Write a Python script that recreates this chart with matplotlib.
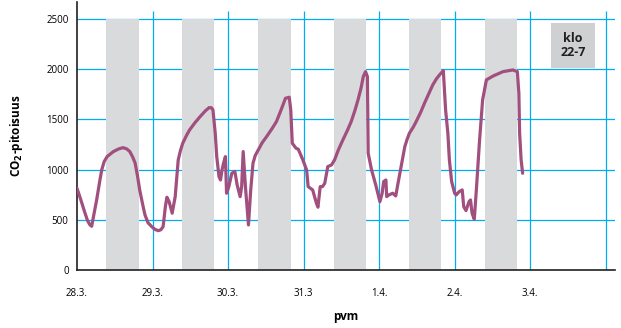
import matplotlib
matplotlib.use("Agg")
import matplotlib.pyplot as plt
from matplotlib.patches import Rectangle

plt.rcParams['font.family'] = ['Open Sans', 'DejaVu Sans']

# x tick labels (day positions 0..6), and one unlabeled grid line at 7
date_labels = ["28.3.", "29.3.", "30.3.", "31.3", "1.4.", "2.4.", "3.4."]
y_ticks = [0, 500, 1000, 1500, 2000, 2500]

# night periods (klo 22-7), in days from 28.3.
night_start = [0.384, 1.39, 2.40, 3.40, 4.40, 5.40]
night_end = [0.82, 1.82, 2.83, 3.82, 4.82, 5.83]

# CO2 series: time (days from 28.3.) and concentration (ppm)
t = [0.00, 0.05, 0.10, 0.14, 0.17, 0.194, 0.22, 0.26, 0.30, 0.327, 0.36, 0.40,
     0.48, 0.55, 0.61, 0.66, 0.70, 0.74, 0.77, 0.80, 0.83, 0.87, 0.90, 0.94, 0.99,
     1.03, 1.075, 1.11, 1.14, 1.17, 1.19, 1.22, 1.26, 1.30, 1.34, 1.37, 1.40, 1.45,
     1.49, 1.56, 1.63, 1.70, 1.75, 1.78, 1.80, 1.83, 1.85, 1.88, 1.90, 1.92, 1.94,
     1.965, 1.98, 2.01, 2.05, 2.09, 2.12, 2.16, 2.18, 2.20, 2.23, 2.27, 2.30, 2.33,
     2.36, 2.40, 2.45, 2.51, 2.58, 2.64, 2.70, 2.76, 2.81, 2.83, 2.85, 2.90, 2.93,
     2.99, 3.04, 3.06, 3.12, 3.17, 3.19, 3.22, 3.25, 3.28, 3.32, 3.37, 3.41, 3.46,
     3.52, 3.58, 3.63, 3.68, 3.72, 3.76, 3.79, 3.82, 3.845, 3.85, 3.855, 3.90, 3.955,
     4.01, 4.04, 4.06, 4.09, 4.10, 4.13, 4.18, 4.22, 4.25, 4.30, 4.34, 4.37, 4.40,
     4.45, 4.49, 4.55, 4.60, 4.66, 4.71, 4.76, 4.80, 4.85, 4.88, 4.91, 4.93, 4.96,
     5.00, 5.02, 5.06, 5.10, 5.12, 5.15, 5.19, 5.21, 5.23, 5.26, 5.29, 5.33, 5.37,
     5.42, 5.51, 5.64, 5.77, 5.83, 5.85, 5.86, 5.88, 5.90]
co2 = [813, 700, 580, 490, 450, 435, 540, 697, 880, 996, 1080, 1130,
       1178, 1205, 1218, 1205, 1178, 1120, 1063, 940, 797, 650, 548, 470, 431,
       405, 391, 400, 431, 630, 724, 680, 565, 730, 1096, 1190, 1262, 1340,
       1394, 1465, 1527, 1585, 1617, 1615, 1594, 1362, 1129, 929, 896, 996, 1063,
       1129, 764, 830, 963, 980, 847, 730, 830, 1179, 830, 448, 797, 1063,
       1140, 1195, 1265, 1328, 1405, 1477, 1590, 1710, 1720, 1594, 1262, 1212, 1202,
       1096, 996, 830, 797, 664, 625, 830, 830, 863, 1029, 1046, 1096, 1195,
       1295, 1390, 1477, 1590, 1693, 1810, 1925, 1975, 1925, 1527, 1162, 996, 847,
       680, 764, 880, 896, 730, 747, 764, 737, 863, 1063, 1228, 1300, 1361,
       1420, 1477, 1570, 1660, 1760, 1843, 1905, 1943, 1985, 1594, 1362, 1096, 880,
       764, 747, 780, 797, 630, 591, 680, 697, 565, 505, 830, 1295, 1693,
       1893, 1932, 1975, 1992, 1975, 1760, 1362, 1096, 963]

fig = plt.figure(figsize=(6.21, 3.28), dpi=100)
ax = fig.add_axes([0.124, 0.177, 0.866, 0.817])
ax.set_xlim(0, 7.12)
ax.set_ylim(0, 2669)

grid_c = "#00aeef"
for yv in y_ticks[1:]:
    ax.axhline(yv, color=grid_c, lw=0.9, zorder=1)
for xv in range(1, 8):
    ax.vlines(xv, 0, 2580, color=grid_c, lw=0.9, zorder=1)

for s, e in zip(night_start, night_end):
    ax.add_patch(Rectangle((s, 0), e - s, 2500, facecolor="#d9dadb",
                           edgecolor="none", zorder=2))

ax.plot(t, co2, color="#a14f7f", lw=2.3, zorder=4, solid_capstyle="round",
        solid_joinstyle="round")

ax.add_patch(Rectangle((6.28, 2012), 0.58, 448, facecolor="#cfd0d2",
                       edgecolor="none", zorder=3))
ax.text(6.57, 2236, "klo\n22-7", ha="center", va="center", fontsize=9,
        fontweight="bold", color="#231f20", zorder=5, linespacing=1.05)

ax.set_xticks(range(0, 7))
ax.set_xticklabels(date_labels, fontsize=7)
ax.set_yticks(y_ticks)
ax.set_yticklabels([str(v) for v in y_ticks], fontsize=7)
ax.tick_params(length=0, pad=6)
ax.tick_params(axis="x", pad=13)

for sp in ["top", "right"]:
    ax.spines[sp].set_visible(False)
for sp in ["left", "bottom"]:
    ax.spines[sp].set_linewidth(1.2)
    ax.spines[sp].set_color("#231f20")

ax.set_ylabel(r"CO$_\mathbf{2}$-pitoisuus", fontsize=8.5, fontweight="bold",
              labelpad=15)
ax.set_xlabel("pvm", fontsize=8.5, fontweight="bold", labelpad=8)

fig.savefig("out.png", dpi=100)
